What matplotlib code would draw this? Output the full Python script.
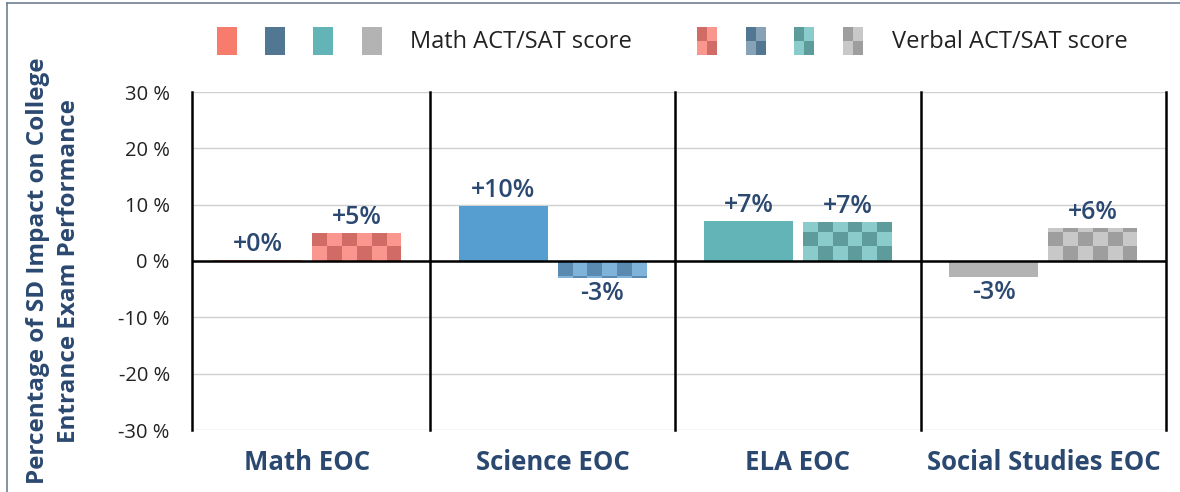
import numpy as np
import matplotlib.pyplot as plt
from matplotlib.patches import Rectangle

plt.rcParams['font.family'] = ['Open Sans', 'DejaVu Sans']

# ---- data
categories = ["Math EOC", "Science EOC", "ELA EOC", "Social Studies EOC"]
math_score = [0.2, 9.8, 7.1, -2.9]      # solid bars
verbal_score = [5.0, -3.0, 6.9, 5.9]    # checkered bars
math_labels = ["+0%", "+10%", "+7%", "-3%"]
verbal_labels = ["+5%", "-3%", "+7%", "+6%"]
yticks = [-30, -20, -10, 0, 10, 20, 30]

solid_cols = ["#F87C6E", "#559ECF", "#62B4B6", "#B3B3B3"]
legend_solid = ["#F87C6E", "#527792", "#62B4B6", "#B3B3B3"]
check_cols = [("#D06B66", "#F9968E"), ("#5A8AB0", "#7FB3DA"),
              ("#5E9C9C", "#8ACBCB"), ("#9E9E9E", "#C8C8C8")]
legend_check = [("#D06B66", "#F9968E"), ("#527792", "#87A1B7"),
                ("#5E9C9C", "#8ACBCB"), ("#9E9E9E", "#C8C8C8")]
NAVY = "#2B4870"

fig = plt.figure(figsize=(11.8, 4.92), dpi=100)
ax = fig.add_axes([192/1180, 1-430/492, (1166-192)/1180, (430-92)/492])

x = np.arange(len(categories))
w = 0.363
off = 0.202
ax.bar(x - off, math_score, w, color=solid_cols, zorder=2)

# checkered bars drawn cell by cell
ncol = 6
cell_h = 2.6
for i, v in enumerate(verbal_score):
    dark, light = check_cols[i]
    left = x[i] + off - w/2
    s = 1 if v >= 0 else -1
    nrow = int(np.ceil(abs(v)/cell_h - 1e-9))
    for k in range(nrow):
        h = min(cell_h, abs(v) - k*cell_h)
        for j in range(ncol):
            even = (j + k) % 2 == 0
            if s > 0:
                c = light if even else dark
            else:
                c = dark if even else light
            ax.add_patch(Rectangle((left + j*w/ncol, s*k*cell_h), w/ncol, s*h,
                                   facecolor=c, edgecolor="none", zorder=2))

# value labels
for i in range(len(categories)):
    for xv, v, lab in [(x[i]-off, math_score[i], math_labels[i]),
                       (x[i]+off, verbal_score[i], verbal_labels[i])]:
        if v >= 0:
            ax.annotate(lab, (xv, v), xytext=(0, 2), textcoords="offset points",
                        ha="center", va="bottom", fontsize=18, color=NAVY,
                        fontweight="semibold")
        else:
            ax.annotate(lab, (xv, v), xytext=(0, -2), textcoords="offset points",
                        ha="center", va="top", fontsize=18, color=NAVY,
                        fontweight="semibold")

ax.set_xlim(-0.47, 3.5)
ax.set_ylim(-30, 30)
ax.set_yticks(yticks)
ax.set_yticklabels([f"{t} %" for t in yticks], fontsize=14.5, color="#222222")
ax.tick_params(axis="y", length=0, pad=16)
ax.set_xticks(x)
ax.set_xticklabels(categories, fontsize=18.5, fontweight="bold", color=NAVY)
ax.tick_params(axis="x", length=0, pad=14)
ax.grid(axis="y", color="#D0D0D0", lw=1, zorder=0)
for s in ["top", "right", "bottom"]:
    ax.spines[s].set_visible(False)
ax.spines["left"].set_color("black")
ax.spines["left"].set_linewidth(1.8)
for sep in [0.5, 1.5, 2.5, 3.5]:
    ax.axvline(sep, color="black", lw=1.8, zorder=3, clip_on=False)
ax.axhline(0, color="black", lw=1.8, zorder=3)

ax.set_ylabel("Percentage of SD Impact on College\nEntrance Exam Performance",
              fontsize=17.5, fontweight="bold", color=NAVY, linespacing=1.4)
ax.yaxis.set_label_coords(-0.114, 0.47)

# legend drawn in figure pixel space
lg = fig.add_axes([0, 0, 1, 1], zorder=-1)
lg.set_xlim(0, 1180)
lg.set_ylim(492, 0)
lg.axis("off")
sq_w, sq_h, sq_y = 20, 28, 27
for n, xs in enumerate([217, 265, 313, 362]):
    lg.add_patch(Rectangle((xs, sq_y), sq_w, sq_h, facecolor=legend_solid[n],
                           edgecolor="none"))
lg.text(410, sq_y + sq_h/2 + 1, "Math ACT/SAT score", fontsize=17, color="#222222",
        va="center", ha="left")
for n, xs in enumerate([697, 746, 794, 843]):
    dark, light = legend_check[n]
    for r in range(2):
        for c in range(2):
            col = dark if (r + c) % 2 == 0 else light
            lg.add_patch(Rectangle((xs + c*sq_w/2, sq_y + r*sq_h/2), sq_w/2, sq_h/2,
                                   facecolor=col, edgecolor="none"))
lg.text(892, sq_y + sq_h/2 + 1, "Verbal ACT/SAT score", fontsize=17, color="#222222",
        va="center", ha="left")

# frame lines (left/top)
lg.plot([7, 7], [3, 492], color="#6E7F95", lw=1.2)
lg.plot([7, 1180], [3, 3], color="#6E7F95", lw=1.2)

fig.savefig("out.png", dpi=100)
